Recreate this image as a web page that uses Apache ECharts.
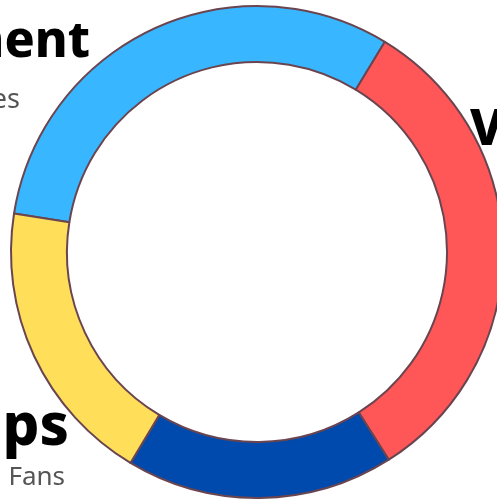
<!DOCTYPE html>
<html>
<head>
<meta charset="utf-8">
<script src="https://cdn.jsdelivr.net/npm/echarts@6/dist/echarts.min.js"></script>
<style>
  html, body { margin: 0; padding: 0; background: #ffffff; }
  #chart { width: 497px; height: 501px; }
</style>
</head>
<body>
<div id="chart"></div>
<script>
// Audience breakdown shown as a ring
const categories = ['Engagement', 'Views', 'Subscribers', 'Memberships'];
const subtitles = ['Likes & Shares', 'Watch Time', 'Followers', 'Loyal Fans'];
const shares = [31.2, 32.3, 17.6, 18.9];
const colors = ['#38B6FF', '#FF5757', '#004AAD', '#FFDE59'];

const chart = echarts.init(document.getElementById('chart'), null, { renderer: 'canvas' });

const textFont = '"Noto Sans", "Open Sans", sans-serif';

// Heading + caption blocks placed beside the ring
function label(text, x, y, align, size, weight, color) {
  return {
    type: 'text',
    z: 10,
    style: {
      text: text, x: x, y: y, align: align, verticalAlign: 'middle',
      font: weight + ' ' + size + 'px ' + textFont, fill: color
    }
  };
}

chart.setOption({
  animation: false,
  series: [{
    type: 'pie',
    center: [257, 252],
    radius: [190, 246],
    startAngle: 171,
    clockwise: true,
    silent: true,
    label: { show: false },
    labelLine: { show: false },
    itemStyle: { borderColor: '#6a4550', borderWidth: 2 },
    data: categories.map((name, i) => ({
      name,
      value: shares[i],
      itemStyle: { color: colors[i] }
    }))
  }],
  graphic: [
    label(categories[0], 90, 43, 'right', 50, 800, '#000'),
    label(subtitles[0], 20, 100, 'right', 27, 400, '#555'),
    label(categories[1], 470, 131, 'left', 50, 800, '#000'),
    label(categories[3], 69, 428, 'right', 58, 800, '#000'),
    label(subtitles[3], 65, 478, 'right', 26, 400, '#555')
  ]
});
</script>
</body>
</html>
